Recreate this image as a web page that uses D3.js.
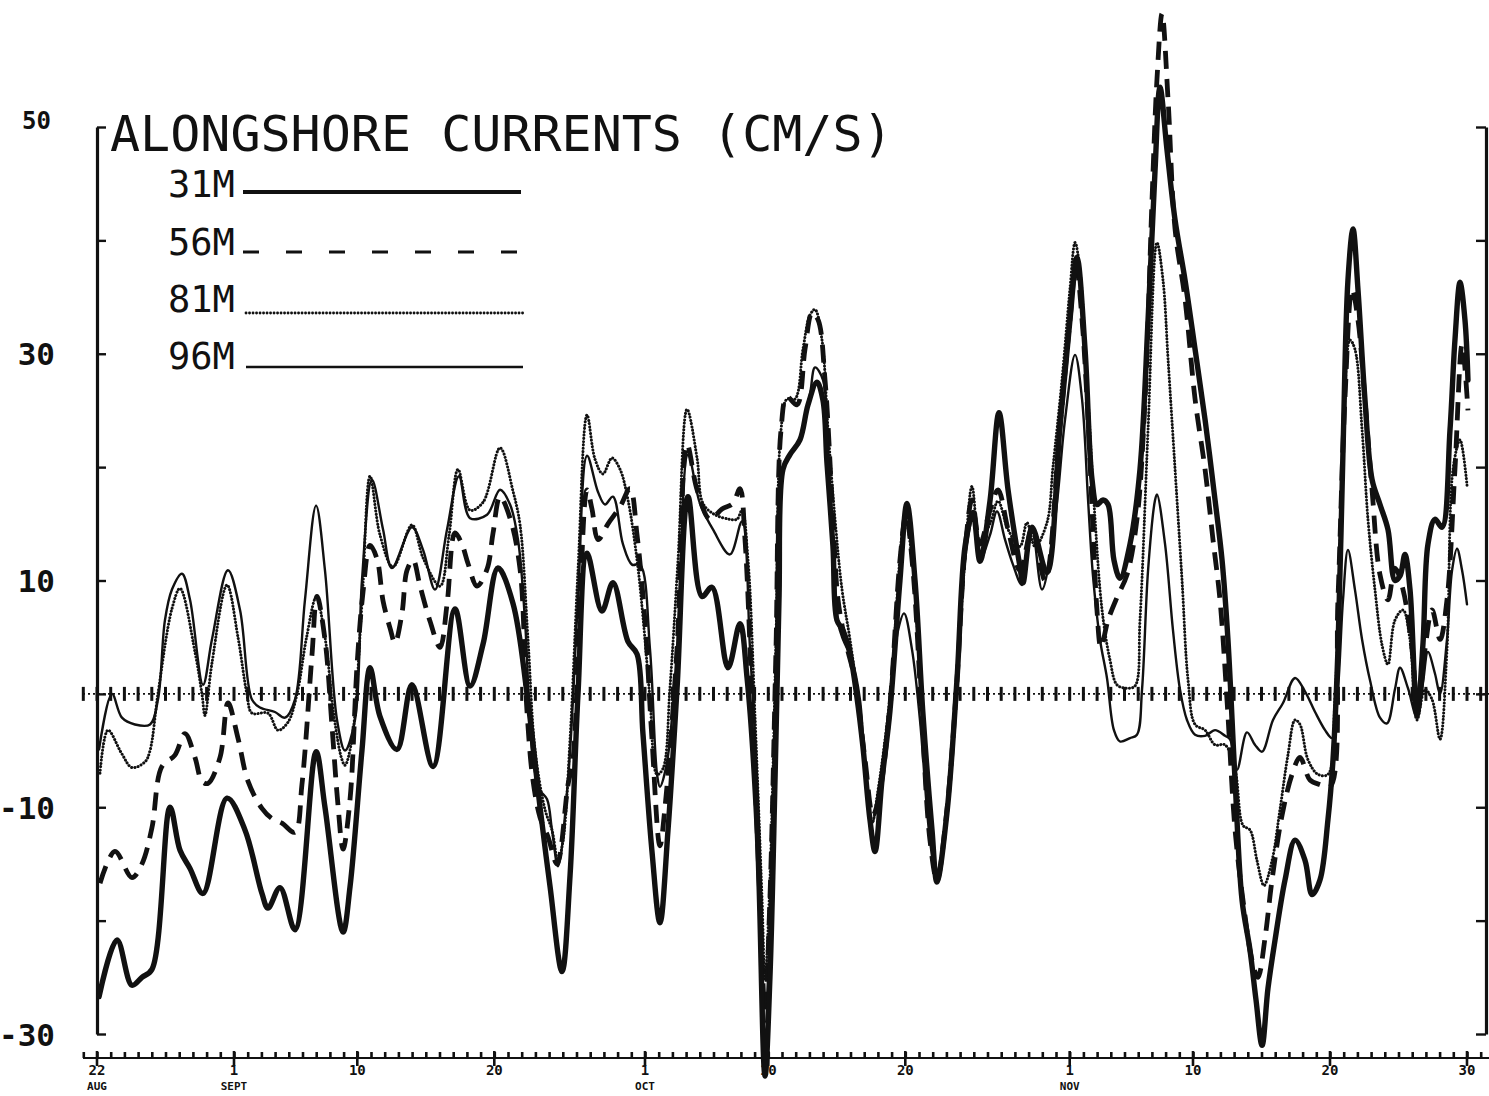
<!DOCTYPE html>
<html>
<head>
<meta charset="utf-8">
<script src="https://cdn.jsdelivr.net/npm/d3@7"></script>
<style>
  html, body { margin: 0; padding: 0; background: #fff; }
  svg { display: block; }
</style>
</head>
<body>
<svg id="chart" width="1489" height="1096"></svg>
<script>
// Alongshore current speed (cm/s) at four depths, 22 Aug - 30 Nov.
// Each point is [days after 22 Aug, speed].
const m31 = [[0.15,-26.7],[1.46,-21.7],[2.55,-25.7],[3.28,-25],[4.01,-24.3],[5.33,-10],[6.06,-13.8],[6.79,-15.4],[7.74,-17.6],[9.49,-9.2],[10.8,-12],[12.04,-17.6],[12.48,-18.9],[13.36,-17.1],[14.45,-20.8],[15.99,-5.1],[16.64,-10],[17.96,-21],[18.47,-17],[19.34,-5],[19.93,2.3],[20.66,-2],[21.9,-4.9],[22.99,0.8],[24.53,-6.4],[26.13,7.5],[27.23,0.7],[28.18,4.4],[29.27,11.1],[30.36,8],[31.39,0],[32.34,-10],[33.07,-17],[33.94,-24.5],[34.53,-16],[35.11,0],[35.77,12.4],[36.86,7.3],[37.66,9.8],[38.76,4.6],[39.42,3.5],[39.85,-3.5],[40.51,-13.9],[41.09,-20.2],[41.68,-12],[42.34,0.5],[43.14,17.4],[44.16,8.6],[44.89,9.4],[46.06,2.3],[46.93,6.2],[47.45,1.4],[48.18,-11.7],[48.76,-33.7],[49.12,-25],[49.49,-7.6],[49.78,8.3],[50.07,19.8],[50.58,21.1],[51.31,22.4],[51.9,25.5],[52.55,27.5],[52.99,25.9],[53.28,20.4],[53.72,13],[54.01,6.5],[54.45,5.6],[54.96,3.6],[55.47,-0.3],[55.91,-4.7],[56.42,-11.1],[56.79,-13.9],[57.3,-7.6],[57.88,-1.5],[58.61,10],[59.12,16.8],[59.71,10],[60.29,-1.8],[60.95,-12],[61.31,-16.6],[62.04,-10.5],[62.77,1.2],[63.36,13],[63.94,16],[64.45,11.7],[65.18,17],[65.84,24.8],[66.5,18],[67.37,11.2],[67.59,9.8],[68.25,14.7],[69.34,10.7],[70.29,23.6],[71.02,33],[71.53,38.5],[72.12,30.4],[72.63,18.9],[72.99,16.7],[73.43,17.1],[73.8,16.7],[74.23,11.8],[74.67,10.2],[75.4,13.2],[76.13,19.8],[76.72,33],[77.23,46.2],[77.59,53.5],[78.1,48],[78.69,41.8],[79.42,36.5],[80.15,30.4],[80.88,24.2],[81.61,17.1],[82.12,11.8],[82.55,4.8],[83.07,-7.6],[83.58,-18.2],[84.16,-22.6],[84.6,-27],[85.04,-31],[85.47,-26],[85.99,-21.7],[86.72,-16.4],[87.45,-12.9],[88.18,-14.7],[88.69,-17.7],[89.27,-16.4],[89.85,-11.1],[90.22,-5.8],[90.58,3.9],[90.95,21.5],[91.31,36.5],[91.68,41],[92.04,35.7],[92.55,26],[93.07,18.9],[93.65,16.7],[94.23,14.5],[94.74,10],[95.11,10.4],[95.47,12.3],[95.84,9.2],[96.35,-1.9],[96.79,4.5],[97.15,13.2],[97.66,15.4],[98.18,14.7],[98.76,23.3],[99.12,31.2],[99.49,36.3],[99.85,33],[100.07,27.7]];

const m56 = [[0.22,-16.7],[1.31,-13.9],[2.55,-16.2],[3.28,-15],[4.01,-11.8],[4.74,-6.4],[5.69,-5.4],[6.42,-3.5],[7.15,-5.6],[7.66,-7.7],[8.1,-7.9],[8.98,-5.6],[9.56,-0.8],[10.29,-3.9],[11.02,-7.7],[12.04,-10.1],[12.77,-11],[13.5,-11.4],[14.45,-12.2],[14.96,-8],[15.69,3.4],[16.06,8.6],[16.64,4.8],[17.15,-2.8],[17.59,-9.8],[17.96,-13.7],[18.47,-9.3],[18.98,2.5],[19.42,9],[19.93,13.1],[20.44,11.9],[20.88,8.2],[21.39,5.8],[21.75,4.5],[22.26,7.1],[22.63,10.9],[23.07,11.8],[23.58,9.5],[24.31,6.4],[25.04,4.1],[25.55,7.9],[26.13,14.2],[26.64,13.2],[27.08,11.5],[27.74,9.5],[28.47,11],[28.91,14.2],[29.42,17.4],[30.15,15.5],[30.88,11],[31.39,-1.6],[31.82,-7.6],[32.34,-10.9],[32.92,-12.6],[33.58,-15],[34.38,-8],[34.74,-5.8],[35.26,8.3],[35.77,18],[36.13,16.3],[36.57,13.6],[37.3,15],[38.18,16.5],[38.91,18.1],[39.42,14],[40,6.4],[40.51,-4],[41.09,-13.4],[41.46,-10],[42.34,4],[43.07,22],[43.8,18],[44.74,15.4],[45.62,16.3],[46.42,16.8],[46.93,18.1],[47.3,13.6],[47.81,-0.5],[48.39,-18.2],[48.76,-27.9],[49.12,-18],[49.56,3.9],[49.93,23.3],[50.36,26.2],[51.09,25.5],[51.68,30.4],[52.19,33.6],[52.63,33],[53.14,27.7],[53.65,17.1],[54.09,8.3],[54.6,4.8],[55.33,1.2],[56.06,-5.8],[56.64,-10.7],[57.15,-8.6],[57.88,-1],[58.61,11.8],[59.05,15.8],[59.56,10.9],[60.22,-2.3],[60.8,-12.9],[61.31,-16.4],[62.04,-10.2],[62.77,1.2],[63.36,12.7],[63.87,17.1],[64.45,13.2],[65.18,16.2],[65.77,18],[66.5,14.5],[67.37,10.9],[68.25,14.5],[69.2,10],[70.29,23.6],[71.02,33],[71.46,37.9],[71.9,33],[72.34,24.2],[72.7,14.5],[72.99,7.4],[73.28,4.1],[73.8,6.5],[74.45,8.5],[75.18,10.5],[75.91,15.4],[76.5,26],[77.01,43.6],[77.37,54.2],[77.74,60],[78.18,52.4],[78.69,41],[79.42,34.8],[80.15,26],[80.88,19.8],[81.46,13.6],[81.97,8.3],[82.48,-0.5],[83.07,-12],[83.65,-18.2],[84.31,-23.5],[84.74,-25],[85.26,-21.5],[85.77,-16.4],[86.5,-10.7],[87.23,-7.1],[87.81,-5.6],[88.54,-7.6],[89.27,-8],[90,-8.2],[90.58,8.3],[91.09,26],[91.61,35.7],[92.04,33],[92.55,26],[93.07,18],[93.65,10.5],[94.23,8.3],[94.74,11.1],[95.33,9.2],[95.99,3.9],[96.42,-1.4],[96.93,3.9],[97.45,7.4],[98.03,4.8],[98.54,8.3],[99.12,19.8],[99.64,30.8],[100.07,25]];

const m81 = [[0.22,-7],[0.8,-3.2],[1.82,-5.3],[2.55,-6.5],[3.5,-6],[3.87,-5],[4.45,0],[5.47,7.5],[6.06,9.3],[7.15,3.7],[7.66,0],[7.88,-1.9],[8.39,2.7],[9.49,9.6],[10.29,5],[10.94,0],[11.31,-1.7],[12.48,-1.7],[13.21,-3.2],[13.94,-2.5],[14.6,0],[15.3,5],[16,8.5],[16.64,5],[17.3,-2],[17.88,-5.8],[18.1,-6.3],[18.61,-4],[19.34,8],[19.93,19.2],[20.66,14],[21.61,11.2],[22.99,14.9],[23.8,12],[25.04,9.5],[25.7,14],[26.35,19.8],[27.23,16.2],[28.18,16.9],[29.42,21.7],[30.36,17.9],[30.88,14.9],[31.46,4.8],[31.97,-4.9],[32.7,-10.2],[33.21,-12],[33.65,-14.7],[34.01,-13],[34.53,-4],[35.11,10.9],[35.77,24.6],[36.35,20.7],[36.93,19.4],[37.59,20.8],[38.18,19.8],[38.76,17.1],[39.42,11.8],[39.85,6.8],[40.36,-0.4],[40.88,-7.1],[41.31,-6.6],[41.82,0.5],[42.41,11.8],[43.07,25.1],[43.8,20.8],[44.23,16.8],[45.11,15.8],[46.2,15.4],[46.72,15.4],[47.08,16.2],[47.52,11.8],[48.03,-2],[48.54,-18],[48.76,-25.2],[49.12,-16.4],[49.56,4.8],[49.93,23.3],[50.36,26],[50.95,26],[51.53,30.4],[52.04,33.4],[52.41,33.9],[52.92,31.2],[53.36,23.3],[53.87,15.4],[54.38,9.2],[54.96,4.8],[55.55,-0.5],[56.13,-7.6],[56.57,-11.4],[57.01,-8.5],[57.88,-0.3],[58.98,15.4],[59.49,12],[60.07,2],[60.8,-11],[61.31,-16],[62.04,-10],[62.77,1.5],[63.36,12],[63.87,18.3],[64.45,13.5],[65.18,15],[65.77,17],[66.5,14.5],[67.37,13],[67.88,15.1],[68.47,13],[69.34,15.1],[69.78,20],[70.44,27.7],[71.02,35.7],[71.39,39.8],[71.75,37.4],[72.26,27.7],[72.85,15.4],[73.36,7.4],[73.94,3],[74.45,0.8],[75.18,0.5],[75.77,0.7],[76.13,6.5],[76.72,23.3],[77.37,39.8],[77.81,36.5],[78.18,29.5],[78.69,19.8],[79.2,10],[79.64,1.2],[80.15,-2.7],[80.88,-3.2],[81.61,-4.5],[82.34,-4.5],[83.07,-6.7],[83.65,-11.6],[84.16,-12],[84.67,-14.7],[85.18,-16.9],[85.77,-14.7],[86.35,-10.2],[86.93,-5.4],[87.45,-2.3],[87.81,-2.7],[88.39,-5.8],[89.12,-7.1],[89.85,-7.1],[90.36,-0.5],[90.95,21.5],[91.46,31.2],[91.82,30.4],[92.34,23.3],[92.77,15.4],[93.28,9.2],[93.8,4.3],[94.23,2.6],[94.74,6.5],[95.33,7.4],[95.84,4.8],[96.35,-2.3],[96.93,0.4],[97.45,-0.5],[98.03,-4],[98.54,3.9],[98.98,19.8],[99.49,22.4],[100,18.4]];

const m96 = [[0.15,-4.9],[1.09,0],[1.82,-2.1],[2.77,-2.7],[3.87,-2.7],[4.45,-0.5],[4.96,6.5],[5.47,9.2],[6.2,10.6],[6.79,8.3],[7.74,0.8],[8.39,4.8],[9.56,10.9],[10.44,7.4],[11.31,-0.5],[11.9,-1.2],[12.99,-1.6],[13.72,-2.1],[14.45,-0.5],[15.18,8.3],[15.99,16.6],[16.64,10.9],[17.52,-2.3],[18.1,-5],[18.83,-2.3],[19.34,10],[20.07,18.9],[20.88,14.5],[21.53,11.1],[22.99,14.7],[23.8,12.7],[24.67,9.2],[25.55,14.5],[26.42,19.2],[27.23,15.5],[28.47,15.8],[29.42,18],[30.15,16.7],[30.73,13.6],[31.24,6.5],[31.82,-5.8],[32.34,-8.5],[32.85,-9.3],[33.21,-12],[33.65,-15.2],[34.38,-7.6],[35.11,8.3],[35.77,21],[36.57,17.8],[37.08,16.7],[37.66,17.4],[38.39,13.2],[39.05,11.4],[39.64,11.4],[40.36,4],[40.88,-7.1],[41.09,-8.2],[41.61,-6],[42.34,4.1],[43.14,21.1],[44.01,16.8],[44.96,14.5],[46.2,12.3],[47.08,15.2],[47.66,4.1],[48.25,-9.4],[48.76,-29],[49.2,-16.4],[49.56,3.9],[50,19.8],[50.58,21.1],[51.31,22.4],[52.04,26.4],[52.41,28.8],[52.99,27.7],[53.36,21.5],[53.72,13.6],[54.09,6.3],[54.45,4.8],[55.11,3],[55.69,-0.5],[56.13,-7.6],[56.57,-11.4],[57.15,-7.6],[57.88,-0.6],[58.47,5.6],[58.91,7.1],[59.49,3.9],[60.07,-2.3],[60.8,-12.9],[61.31,-16.4],[62.04,-10.2],[62.77,1.2],[63.36,11.8],[63.94,15.4],[64.45,11.8],[65.18,14],[65.69,16.1],[66.28,13.6],[66.86,11.4],[67.52,9.6],[68.25,14.6],[68.98,9.2],[69.93,15.4],[70.66,24.2],[71.39,29.9],[71.9,26],[72.34,17.1],[72.7,10.4],[73.21,4.8],[73.72,1.4],[74.23,-3.2],[74.67,-4.2],[75.4,-3.9],[75.91,-3.6],[76.28,0.4],[76.72,10.9],[77.23,17.1],[77.37,17.6],[77.96,13.2],[78.54,5.6],[79.05,0.4],[79.56,-2.3],[80.15,-3.6],[80.88,-3.7],[81.61,-3.2],[82.34,-3.7],[82.7,-4],[83.21,-6.7],[83.94,-3.4],[84.53,-4.5],[85.04,-5.1],[85.84,-2.3],[86.57,-0.8],[87.45,1.4],[88.18,0.2],[88.91,-1.6],[89.64,-3.2],[90.15,-3.9],[90.58,0.4],[90.95,8.3],[91.31,12.7],[91.82,9.2],[92.34,4.8],[92.92,1.2],[93.65,-2.1],[94.16,-2.6],[94.74,0.4],[95.11,2.3],[95.69,0.5],[96.35,-2.1],[96.79,1],[97.15,3.7],[97.66,1.8],[98.03,0],[98.54,4.8],[98.91,10.9],[99.27,12.8],[99.64,10.9],[100,7.9]];

// Depth labels, in legend order
const depthLabels = ["31M", "56M", "81M", "96M"];

// Date axis: labelled days (days after 22 Aug), day numbers and month names
const dateTickDays = [0, 10, 19, 29, 40, 49, 59, 71, 80, 90, 100];
const dateTickText = ["22", "1", "10", "20", "1", "10", "20", "1", "10", "20", "30"];
const dateTickMonth = ["AUG", "SEPT", "", "", "OCT", "", "", "NOV", "", "", ""];

// Speed axis
const speedTicks = [-30, -20, -10, 0, 10, 20, 30, 40, 50];
const speedLabels = [-30, -10, 10, 30, 50];

const titleText = "ALONGSHORE CURRENTS (CM/S)";

// ---------------------------------------------------------------------
const svg = d3.select("#chart");
const x = d3.scaleLinear().domain([0, 100]).range([97, 1467]);
const y = d3.scaleLinear().domain([-30, 50]).range([1034, 127]);

const ink = "#111";
const mono = "'DejaVu Sans Mono', 'Liberation Mono', monospace";

// Line styles per depth
const styles = {
  "31M": { data: m31, width: 5.4, dash: null, cap: "round" },
  "56M": { data: m56, width: 4.8, dash: "18,10", cap: "butt" },
  "81M": { data: m81, width: 3, dash: "0.1,3.2", cap: "round" },
  "96M": { data: m96, width: 2.4, dash: null, cap: "round" }
};

// ---- zero reference line with a cross mark at every day
const zeroG = svg.append("g");
zeroG.append("line")
  .attr("x1", 83).attr("x2", 1489)
  .attr("y1", y(0)).attr("y2", y(0))
  .attr("stroke", ink).attr("stroke-width", 1.6)
  .attr("stroke-dasharray", "2,3");
zeroG.selectAll("line.mark")
  .data(d3.range(-1, 102))
  .join("line").attr("class", "mark")
  .attr("x1", d => x(d)).attr("x2", d => x(d))
  .attr("y1", y(0) - 7).attr("y2", y(0) + 7)
  .attr("stroke", ink).attr("stroke-width", 3);

// ---- left speed axis (ticks pointing into the plot, labels to the left)
const leftAxis = d3.axisLeft(y)
  .tickValues(speedTicks)
  .tickSizeInner(-9).tickSizeOuter(0).tickPadding(42)
  .tickFormat(d => speedLabels.includes(d) ? String(d) : "");
const gl = svg.append("g").attr("transform", "translate(97,0)").call(leftAxis);
gl.select(".domain").attr("stroke", ink).attr("stroke-width", 3.2);
gl.selectAll(".tick line").attr("stroke", ink).attr("stroke-width", 2.4);
gl.selectAll(".tick text")
  .attr("fill", ink)
  .attr("x", d => d === 50 ? -46 : -42)
  .style("font-family", mono).style("font-weight", "bold")
  .style("font-size", d => d === 50 ? "24px" : "31px")
  .attr("dy", d => d === 50 ? "0.05em" : "0.36em");

// ---- right speed axis (ticks pointing into the plot, no labels)
const rightAxis = d3.axisLeft(y).tickValues(speedTicks).tickSizeInner(10).tickSizeOuter(0).tickFormat("");
const gr = svg.append("g").attr("transform", "translate(1486,0)").call(rightAxis);
gr.select(".domain").attr("stroke", ink).attr("stroke-width", 3.2);
gr.selectAll(".tick line").attr("stroke", ink).attr("stroke-width", 2.4);

// ---- date axis along the bottom
const dateY = 1058;
const bottomAxis = d3.axisBottom(x)
  .tickValues(d3.range(-1, 102))
  .tickSizeInner(-6).tickSizeOuter(0).tickFormat("");
const gb = svg.append("g").attr("transform", `translate(0,${dateY})`).call(bottomAxis);
gb.select(".domain").remove();
gb.append("line").attr("x1", 83).attr("x2", 1489).attr("y1", 0).attr("y2", 0)
  .attr("stroke", ink).attr("stroke-width", 2);
gb.selectAll(".tick line").attr("stroke", ink).attr("stroke-width", 2.6);
const lab = gb.selectAll("g.lab").data(dateTickDays).join("g").attr("class", "lab")
  .attr("transform", d => `translate(${x(d)},0)`);
lab.append("line").attr("y1", -7).attr("y2", 8).attr("stroke", ink).attr("stroke-width", 2.6);
lab.append("text")
  .attr("y", 17).attr("text-anchor", "middle")
  .style("font-family", mono).style("font-weight", "bold").style("font-size", "14px")
  .attr("fill", ink)
  .text((d, i) => dateTickText[i]);
lab.append("text")
  .attr("y", 32).attr("text-anchor", "middle")
  .style("font-family", mono).style("font-weight", "bold").style("font-size", "11px")
  .attr("fill", ink)
  .text((d, i) => dateTickMonth[i]);

// ---- current records
const line = d3.line()
  .x(d => x(d[0]))
  .y(d => y(d[1]))
  .curve(d3.curveCatmullRom.alpha(0.5));

const drawOrder = ["81M", "96M", "56M", "31M"];
svg.append("g").selectAll("path")
  .data(drawOrder)
  .join("path")
  .attr("d", k => line(styles[k].data))
  .attr("fill", "none")
  .attr("stroke", ink)
  .attr("stroke-width", k => styles[k].width)
  .attr("stroke-dasharray", k => styles[k].dash)
  .attr("stroke-linecap", k => styles[k].cap)
  .attr("stroke-linejoin", "round");

// ---- title
svg.append("text")
  .attr("x", 110).attr("y", 151)
  .style("font-family", mono).style("font-size", "50px")
  .attr("fill", ink)
  .text(titleText);

// ---- legend
const legendRows = [
  { k: "31M", ty: 197, ly: 192, x1: 243, x2: 521, dash: null, w: 4 },
  { k: "56M", ty: 255, ly: 252, x1: 243, x2: 518, dash: "16,27", w: 3 },
  { k: "81M", ty: 312, ly: 313, x1: 246, x2: 525, dash: "0.1,3.4", w: 2.8 },
  { k: "96M", ty: 369, ly: 367, x1: 246, x2: 523, dash: null, w: 2.4 }
];
const lg = svg.append("g");
lg.selectAll("text").data(legendRows).join("text")
  .attr("x", 168).attr("y", d => d.ty)
  .style("font-family", mono).style("font-size", "37px")
  .attr("fill", ink)
  .text((d, i) => depthLabels[i]);
lg.selectAll("line").data(legendRows).join("line")
  .attr("x1", d => d.x1).attr("x2", d => d.x2)
  .attr("y1", d => d.ly).attr("y2", d => d.ly)
  .attr("stroke", ink)
  .attr("stroke-width", d => d.w)
  .attr("stroke-linecap", d => d.k === "81M" ? "round" : "butt")
  .attr("stroke-dasharray", d => d.dash);
</script>
</body>
</html>
